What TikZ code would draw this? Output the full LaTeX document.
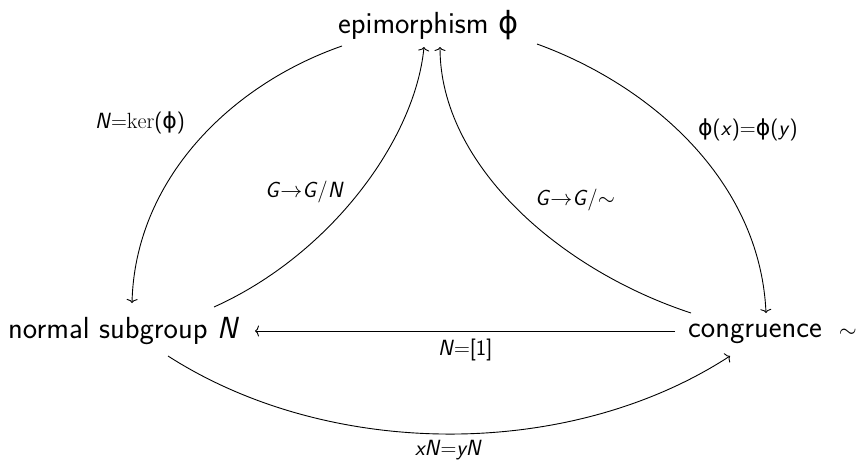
\documentclass[tikz,border=0pt]{standalone}
\usepackage{fix-cm}
\usepackage{fontspec}
\newfontfamily\dvs{DejaVu Sans}
\usetikzlibrary{arrows.meta}
\newcommand{\phiup}{{\dvs ϕ}}
\begin{document}
\begin{tikzpicture}[x=1pt,y=-1pt,
  main/.style={font=\fontsize{30.5}{36}\sffamily, inner sep=0pt, anchor=base west},
  lab/.style={font=\fontsize{22}{26}\sffamily, inner sep=0pt, anchor=base west},
  conn/.style={line width=0.9pt, -{To[length=4pt,width=11pt]}}]
\useasboundingbox (0,0) rectangle (859,466);
% main nodes
\node[main] (epi) at (338,33) {epimorphism \phiup};
\node[main] (nor) at (8,338) {normal subgroup \textit{N}};
\node[main] (con) at (688,337) {congruence\hspace{17pt}{\fontsize{23}{28}\selectfont$\sim$}};
% connector end points
\coordinate (e1) at (342,46);
\coordinate (n1) at (132,303);
\coordinate (n2) at (214,307);
\coordinate (e2) at (424,47);
\coordinate (c2) at (691,313);
\coordinate (e3) at (440,47);
\coordinate (e4) at (537,44);
\coordinate (c4) at (766,313);
\coordinate (c5) at (675,331);
\coordinate (n5) at (255,331);
\coordinate (n6) at (168,356);
\coordinate (c6) at (730,356);
% connectors
\draw[conn] (e1) .. controls (230,85) and (135,180) .. (n1);
\draw[conn] (n2) .. controls (330,255) and (415,140) .. (e2);
\draw[conn] (c2) .. controls (560,270) and (440,165) .. (e3);
\draw[conn] (e4) .. controls (650,85) and (760,180) .. (c4);
\draw[conn] (c5) -- (n5);
\draw[conn] (n6) .. controls (330,460) and (570,460) .. (c6);
% labels
\node[lab] (l1) at (95,128) {\textit{N}$=$$\mathrm{ker}$(\phiup)};
\node[lab] (l2) at (698,135) {\phiup(\textit{x})$=$\phiup(\textit{y})};
\node[lab] (l3) at (265,197) {\textit{G}$\to$\textit{G}/\textit{N}};
\node[lab] (l4) at (535,205) {\textit{G}$\to$\textit{G}/$\sim$};
\node[lab] (l5) at (438,355) {\textit{N}$=$[1]};
\node[lab] (l6) at (415,455) {\textit{xN}$=$\textit{yN}};
\end{tikzpicture}
\end{document}
